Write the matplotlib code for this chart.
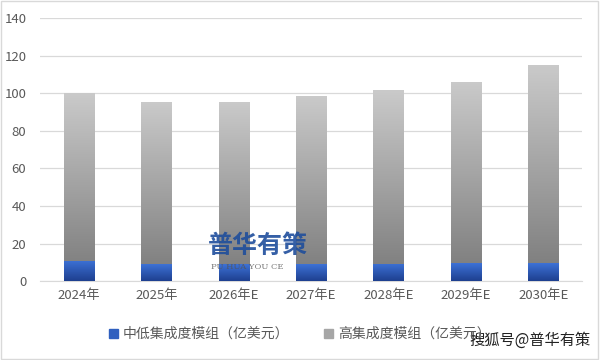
import matplotlib
matplotlib.use("Agg")
import matplotlib.pyplot as plt
import numpy as np
from matplotlib.colors import LinearSegmentedColormap
from matplotlib.patches import Rectangle

plt.rcParams['font.family'] = ['Noto Sans CJK SC', 'DejaVu Sans']

categories = ["2024年", "2025年", "2026年E", "2027年E", "2028年E", "2029年E", "2030年E"]
low_mid = [10.8, 9.0, 9.0, 9.0, 9.3, 9.5, 9.5]
totals = [100.0, 95.3, 95.5, 98.6, 101.6, 105.9, 115.1]
high = [t - l for t, l in zip(totals, low_mid)]
series_names = ["中低集成度模组（亿美元）", "高集成度模组（亿美元）"]
yticks = [0, 20, 40, 60, 80, 100, 120, 140]

fig = plt.figure(figsize=(6, 3.6), dpi=100)
ax = fig.add_axes([0.067, 0.219, 0.903, 0.731])

x = np.arange(len(categories))
w = 0.39
b1 = ax.bar(x, low_mid, w, color="#2f5fbf", zorder=2)
b2 = ax.bar(x, high, w, bottom=low_mid, color="#a6a6a6", zorder=2)

blue_cmap = LinearSegmentedColormap.from_list("b", ["#1e3f8f", "#3d72d6"])
gray_cmap = LinearSegmentedColormap.from_list("g", ["#7a7a7a", "#cacaca"])
grad = np.linspace(0, 1, 256).reshape(-1, 1)
for bars, cmap in ((b1, blue_cmap), (b2, gray_cmap)):
    for p in bars:
        x0, y0 = p.get_x(), p.get_y()
        x1, y1 = x0 + p.get_width(), y0 + p.get_height()
        y0g = 0 if cmap is gray_cmap else y0
        im = ax.imshow(grad, extent=(x0, x1, y0g, y1), origin="lower",
                       cmap=cmap, aspect="auto", zorder=3)
        im.set_clip_path(p)
        p.set_facecolor("none")

ax.set_xlim(-0.5, len(categories) - 0.5)
ax.set_ylim(0, 140)
ax.set_yticks(yticks)
ax.set_xticks(x)
ax.set_xticklabels(categories)
ax.yaxis.grid(True, color="#d9d9d9", linewidth=0.9, zorder=0)
ax.set_axisbelow(True)
for s in ["top", "right", "left"]:
    ax.spines[s].set_visible(False)
ax.spines["bottom"].set_color("#d9d9d9")
ax.tick_params(axis="both", length=0, colors="#595959", labelsize=9.5)
ax.tick_params(axis="x", pad=6)
ax.tick_params(axis="y", pad=10)

handles = [Rectangle((0, 0), 1, 1, color="#2f5fbf"), Rectangle((0, 0), 1, 1, color="#a6a6a6")]
fig.legend(handles, series_names, loc="center", bbox_to_anchor=(0.5, 0.072), ncol=2,
           frameon=False, fontsize=10, labelcolor="#595959", handlelength=0.6,
           handleheight=0.6, columnspacing=2.5, handletextpad=0.4)

# watermark
fig.text(0.347, 0.298, "普华有策", fontsize=18, fontweight="bold", color="#1f4e9c", alpha=0.9)
fig.text(0.352, 0.252, "PU HUA YOU CE", fontsize=6, color="#555555", alpha=0.8, family="DejaVu Serif")
fig.text(0.985, 0.03, "搜狐号@普华有策", fontsize=11, color="#222222", ha="right", va="bottom")

fig.patches.append(Rectangle((0.002, 0.003), 0.995, 0.994, transform=fig.transFigure,
                             fill=False, edgecolor="#d9d9d9", linewidth=1))

fig.savefig("out.png", dpi=100)
